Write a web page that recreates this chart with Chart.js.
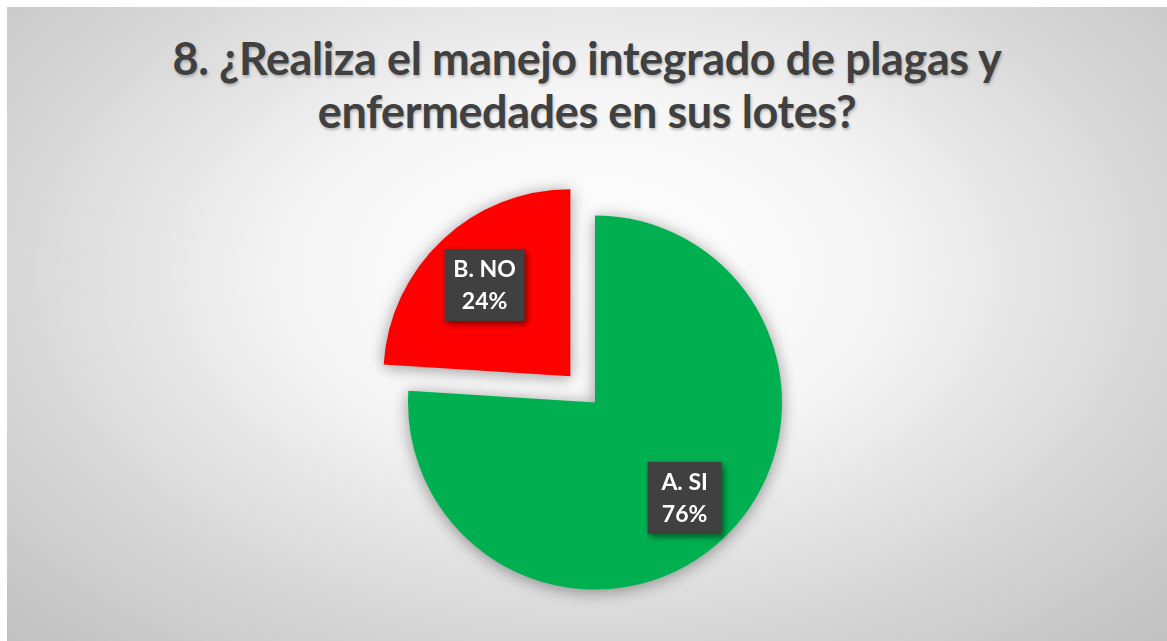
<!DOCTYPE html>
<html>
<head>
<meta charset="utf-8">
<script src="https://cdn.jsdelivr.net/npm/chart.js@4.4.1/dist/chart.umd.min.js"></script>
<style>
  html, body { margin: 0; padding: 0; width: 1167px; height: 641px; overflow: hidden; background: #fff; }
  #bg {
    position: absolute; left: 7px; top: 7px; right: 0; bottom: 0;
    background: radial-gradient(ellipse 70% 80% at 50% 42%, #ffffff 0%, #f6f6f6 35%, #d8d8d8 70%, #c2c2c2 100%);
  }
  #title {
    position: absolute; left: 7px; right: 0; top: 32px;
    text-align: center; font-family: Lato, "Open Sans", sans-serif; font-weight: bold;
    font-size: 45px; line-height: 53px; letter-spacing: -0.4px; color: #404040;
    text-shadow: 1px 2px 3px rgba(0,0,0,0.25);
  }
  #wrap { position: absolute; left: 0; top: 0; width: 1167px; height: 641px; }
</style>
</head>
<body>
<div id="bg"></div>
<div id="title">8. ¿Realiza el manejo integrado de plagas y<br>enfermedades en sus lotes?</div>
<div id="wrap"><canvas id="pie"></canvas></div>
<script>
const categories = ['A. SI', 'B. NO'];
const percents = [76, 24];
const colors = ['#00b050', '#ff0000'];
const explode = [0, 144]; // chart.js moves a slice by offset/4

// sombra suave bajo las porciones
const shadowPlugin = {
  id: 'shadow',
  beforeDatasetsDraw(chart) {
    const ctx = chart.ctx;
    ctx.save();
    ctx.shadowColor = 'rgba(0,0,0,0.4)';
    ctx.shadowBlur = 16;
    ctx.shadowOffsetX = 0;
    ctx.shadowOffsetY = 2;
  },
  afterDatasetsDraw(chart) {
    chart.ctx.restore();
  }
};

// etiquetas con recuadro oscuro
const labelPlugin = {
  id: 'boxLabels',
  afterDatasetsDraw(chart) {
    const ctx = chart.ctx;
    const meta = chart.getDatasetMeta(0);
    meta.data.forEach((arc, i) => {
      const p = arc.getProps(['x', 'y', 'startAngle', 'endAngle', 'outerRadius'], true);
      const half = (p.startAngle + p.endAngle) / 2;
      const frac = i === 0 ? 0.70 : 0.67;
      const d = explode[i] / 4 + p.outerRadius * frac;
      const cx = p.x + Math.cos(half) * d;
      const cy = p.y + Math.sin(half) * d;
      const w = i === 0 ? 74 : 80, h = 72;
      ctx.save();
      ctx.shadowColor = 'rgba(0,0,0,0.5)';
      ctx.shadowBlur = 6;
      ctx.shadowOffsetX = 2;
      ctx.shadowOffsetY = 3;
      ctx.fillStyle = '#404040';
      ctx.fillRect(cx - w / 2, cy - h / 2, w, h);
      ctx.restore();
      ctx.save();
      ctx.fillStyle = '#ffffff';
      ctx.font = 'bold 23px Lato, "Open Sans", sans-serif';
      ctx.textAlign = 'center';
      ctx.textBaseline = 'middle';
      ctx.fillText(categories[i], cx, cy - 15);
      ctx.fillText(percents[i] + '%', cx, cy + 17);
      ctx.restore();
    });
  }
};

new Chart(document.getElementById('pie'), {
  type: 'pie',
  data: {
    labels: categories,
    datasets: [{
      data: percents,
      backgroundColor: colors,
      borderWidth: 0,
      offset: explode,
      radius: 187
    }]
  },
  options: {
    responsive: true,
    maintainAspectRatio: false,
    animation: false,
    layout: { padding: { top: 164, left: 23, right: 0, bottom: 0 } },
    plugins: {
      legend: { display: false },
      tooltip: { enabled: false }
    }
  },
  plugins: [shadowPlugin, labelPlugin]
});
</script>
</body>
</html>
